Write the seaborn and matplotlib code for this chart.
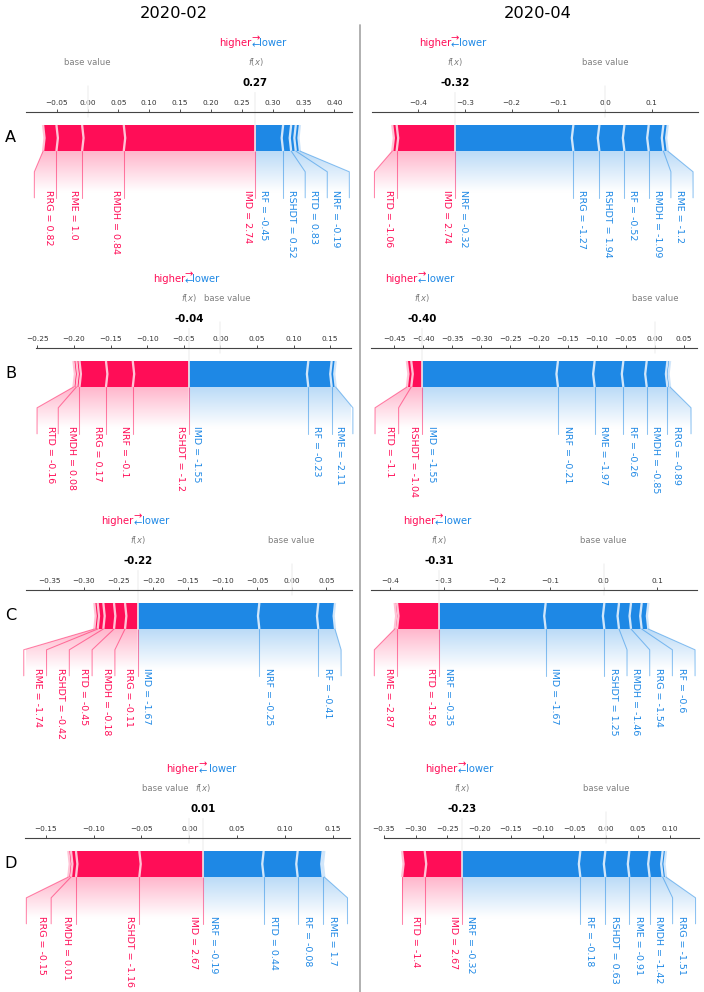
import numpy as np
import matplotlib
matplotlib.use("Agg")
import matplotlib.pyplot as plt
import seaborn as sns
from matplotlib.lines import Line2D
from matplotlib.path import Path
from matplotlib.patches import PathPatch, Polygon
from matplotlib.colors import LinearSegmentedColormap
from matplotlib.font_manager import FontProperties

# ---------------- data ----------------
FEATURES = ["IMD", "NRF", "RF", "RME", "RMDH", "RRG", "RSHDT", "RTD"]
MONTHS = ["2020-02", "2020-04"]
ROWS = ["A", "B", "C", "D"]
BASE_VALUE = 0.0

# SHAP contributions, order as FEATURES
shap_A_feb = [0.2134, -0.0067, -0.0448, 0.0416, 0.0675, 0.0216, -0.0130, -0.0075]
shap_A_apr = [0.1250, -0.2536, -0.0521, -0.0093, -0.0314, -0.0557, -0.0536, 0.0093]
shap_B_feb = [-0.1634, 0.0366, -0.0319, -0.0055, 0.0042, 0.0362, 0.0765, 0.0040]
shap_B_apr = [-0.2347, -0.0634, -0.0404, -0.0496, -0.0358, -0.0046, 0.0190, 0.0075]
shap_C_feb = [-0.1757, -0.0852, -0.0241, 0.0048, 0.0159, 0.0183, 0.0082, 0.0154]
shap_C_apr = [-0.1100, -0.1993, -0.0125, 0.0044, -0.0225, -0.0200, -0.0275, 0.0794]
shap_D_feb = [0.0668, -0.0630, -0.0261, -0.0017, 0.0052, 0.0028, 0.0661, -0.0355]
shap_D_apr = [0.0588, -0.1864, -0.0394, -0.0320, -0.0205, -0.0053, -0.0378, 0.0357]

# feature values shown in the labels, order as FEATURES
vals_A_feb = [2.74, -0.19, -0.45, 1.0, 0.84, 0.82, 0.52, 0.83]
vals_A_apr = [2.74, -0.32, -0.52, -1.2, -1.09, -1.27, 1.94, -1.06]
vals_B_feb = [-1.55, -0.1, -0.23, -2.11, 0.08, 0.17, -1.2, -0.16]
vals_B_apr = [-1.55, -0.21, -0.26, -1.97, -0.85, -0.89, -1.04, -1.1]
vals_C_feb = [-1.67, -0.25, -0.41, -1.74, -0.18, -0.11, -0.42, -0.45]
vals_C_apr = [-1.67, -0.35, -0.6, -2.87, -1.46, -1.54, 1.25, -1.59]
vals_D_feb = [2.67, -0.19, -0.08, 1.7, 0.01, -0.15, -1.16, 0.44]
vals_D_apr = [2.67, -0.32, -0.18, -0.91, -1.42, -1.51, 0.63, -1.4]

# x-axis ranges of each panel
xlim_A = [(-0.0997, 0.428), (-0.4985, 0.1985)]
xlim_B = [(-0.252, 0.178), (-0.490, 0.073)]
xlim_C = [(-0.3837, 0.0867), (-0.4356, 0.175)]
xlim_D = [(-0.1715, 0.1677), (-0.3505, 0.146)]

PANELS = {
    "A": ([shap_A_feb, shap_A_apr], [vals_A_feb, vals_A_apr], xlim_A),
    "B": ([shap_B_feb, shap_B_apr], [vals_B_feb, vals_B_apr], xlim_B),
    "C": ([shap_C_feb, shap_C_apr], [vals_C_feb, vals_C_apr], xlim_C),
    "D": ([shap_D_feb, shap_D_apr], [vals_D_feb, vals_D_apr], xlim_D),
}

# ---------------- layout (pixels) ----------------
W, H, DPI = 704, 992, 100
ROW_TOP = [112, 348, 590, 838]
AX_H = 169
COL_X = {  # left/right px of each axis
    ("A", 0): (26.0, 351.7), ("A", 1): (372.3, 697.7),
    ("B", 0): (36.0, 350.7), ("B", 1): (371.3, 697.0),
    ("C", 0): (26.0, 351.7), ("C", 1): (371.3, 697.0),
    ("D", 0): (25.0, 350.0), ("D", 1): (383.6, 698.7),
}

RED, RED_L = "#FF0D57", "#FFC3D5"
BLUE, BLUE_L = "#1E88E5", "#D1E6FA"
S = 0.55
LABEL_FS = 6.8
SMALL_FS = 6.1
TICK_FS = 5.3
BOLD_FS = 7.4
HL_FS = 7.2
PAD_PT = 4 * S
LABEL_PAD_PT = 3.8

sns.set_theme(style="white")
plt.rcParams["font.family"] = ["DejaVu Sans"]
plt.rcParams["mathtext.fontset"] = "dejavusans"

fig = plt.figure(figsize=(W / DPI, H / DPI), dpi=DPI)
renderer = fig.canvas.get_renderer()


def draw_bars(ax, out, xs, kind, wsep, wbar=0.1):
    pre = out
    for i, x in enumerate(xs):
        if kind == "pos":
            lb, rb = x, pre
            indent = abs(wsep)
            c = RED
        else:
            lb, rb = pre, x
            indent = -abs(wsep)
            c = BLUE
        pre = x
        if i == 0:
            if kind == "pos":
                pts = [[lb, 0], [rb, 0], [rb, wbar], [lb, wbar], [lb + indent, wbar / 2]]
            else:
                pts = [[rb, 0], [lb, 0], [lb, wbar], [rb, wbar], [rb + indent, wbar / 2]]
        else:
            pts = [[lb, 0], [rb, 0], [rb + indent * 0.9, wbar / 2], [rb, wbar],
                   [lb, wbar], [lb + indent * 0.9, wbar / 2]]
        ax.add_patch(Polygon(pts, closed=True, fill=True, facecolor=c, linewidth=0))
    for x in xs:
        if kind == "pos":
            indent, cl = abs(wsep), RED_L
        else:
            indent, cl = -abs(wsep), BLUE_L
        ax.add_patch(Polygon([[x, 0], [x + indent, wbar / 2], [x, wbar]],
                             closed=False, fill=False, edgecolor=cl, lw=3 * S))


def draw_labels(ax, out, feats, xs, kind, offset):
    lw = 1 * S + 0.2
    if kind == "pos":
        c, ha, sign, rgb = RED, "right", 1, (1.0, 13 / 255, 87 / 255)
        ax.add_line(Line2D([out, out], [0, -0.18], lw=lw, alpha=0.5, color=c, clip_on=False))
    else:
        c, ha, sign, rgb = BLUE, "left", -1, (30 / 255, 136 / 255, 229 / 255)
    start, pre, box_end = out, out, out
    inv = ax.transData.inverted()
    padpx = LABEL_PAD_PT * DPI / 72
    for (s, v, n), val in zip(feats, xs):
        t = ax.text(start - sign * offset, -0.15, f"{n} = {v}", fontsize=LABEL_FS, color=c,
                    ha=ha, va="top", rotation=-90)
        bb = t.get_window_extent(renderer=renderer)
        if kind == "pos":
            be_ = inv.transform((bb.x0 - padpx, bb.y0))[0]
        else:
            be_ = inv.transform((bb.x1 + padpx, bb.y0))[0]
        if sign * be_ > sign * val:
            ax.add_line(Line2D([val, val], [0, -0.18], lw=lw, alpha=0.5, color=c, clip_on=False))
            start = val
            box_end = val
        else:
            box_end = be_ - sign * offset
            ax.add_line(Line2D([val, box_end, box_end], [0, -0.08, -0.18], lw=lw,
                               alpha=0.5, color=c, clip_on=False))
            start = box_end
        pre = val
    path = Path([[out, 0], [pre, 0], [box_end, -0.08], [box_end, -0.2], [out, -0.2], [out, 0]])
    patch = PathPatch(path, facecolor="none", edgecolor="none")
    ax.add_patch(patch)
    cm = LinearSegmentedColormap.from_list("cm", [rgb, (1, 1, 1)])
    _, Z2 = np.meshgrid(np.linspace(0, 10), np.linspace(-10, 10))
    im = ax.imshow(Z2, interpolation="quadric", cmap=cm, vmax=0.01, alpha=0.3,
                   origin="lower", extent=[out, box_end, 0, -0.31], aspect="auto",
                   clip_on=True)
    im.set_clip_path(patch)


def force_plot(ax, shap, vals, xlim):
    shap = np.asarray(shap, float)
    out = BASE_VALUE + shap.sum()
    items = list(zip(shap, [str(v) for v in vals], FEATURES))
    neg = sorted([it for it in items if it[0] < 0], key=lambda t: t[0])
    pos = sorted([it for it in items if it[0] > 0], key=lambda t: -t[0])
    neg_x = out + np.cumsum([abs(t[0]) for t in neg])
    pos_x = out - np.cumsum([abs(t[0]) for t in pos])
    total_neg = neg_x.max() - neg_x.min()
    total_pos = pos_x.max() - pos_x.min()
    offset = (total_neg + total_pos) * 0.04
    padding = max(total_pos, total_neg) * 0.2
    min_x = min(pos_x.min(), BASE_VALUE) - padding
    max_x = max(neg_x.max(), BASE_VALUE) + padding
    wsep = (max_x - min_x) / 200

    ax.set_xlim(*xlim)
    ax.set_ylim(-0.5, 0.15)
    ax.set_facecolor("none")
    sns.despine(ax=ax, top=False, left=True, bottom=True, right=True)
    ax.spines["top"].set_color("#444444")
    ax.spines["top"].set_linewidth(0.8)
    ax.tick_params(top=True, bottom=False, left=False, right=False, labelleft=False,
                   labeltop=True, labelbottom=False, labelsize=TICK_FS, length=2, width=0.6,
                   pad=2.0, colors="#333333")
    ax.locator_params(axis="x", nbins=12)
    ax.set_yticks([])

    draw_bars(ax, out, neg_x, "neg", wsep)
    draw_bars(ax, out, pos_x, "pos", wsep)
    draw_labels(ax, out, neg, neg_x, "neg", offset)
    draw_labels(ax, out, pos, pos_x, "pos", offset)

    # higher / lower legend
    ax.text(out - offset, 0.405, "higher", fontsize=HL_FS, color=RED, ha="right")
    ax.text(out + offset, 0.405, "lower", fontsize=HL_FS, color=BLUE, ha="left")
    ax.text(out, 0.4, r"$\leftarrow$", fontsize=HL_FS, color=BLUE, ha="center")
    ax.text(out, 0.425, r"$\rightarrow$", fontsize=HL_FS, color=RED, ha="center")

    # base value
    ax.add_line(Line2D([BASE_VALUE, BASE_VALUE], [0.13, 0.25], lw=2 * S, color="#F2F2F2",
                       clip_on=False))
    # output value
    ax.add_line(Line2D([out, out], [0, 0.24], lw=2 * S, color="#F2F2F2", clip_on=False))
    bprops = dict(facecolor="white", edgecolor="white", pad=PAD_PT)
    font = FontProperties(weight="bold")
    tv = ax.text(out, 0.25, "{0:.2f}".format(out), fontproperties=font, fontsize=BOLD_FS,
                 ha="center", color="black")
    tv.set_bbox(bprops)
    tf = ax.text(out, 0.33, r"$f(x)$", fontsize=SMALL_FS, alpha=0.5, ha="center", color="black")
    tf.set_bbox(bprops)
    tb = ax.text(BASE_VALUE, 0.33, "base value", fontsize=SMALL_FS, alpha=0.5, ha="center",
                 color="black")
    tb.set_bbox(bprops)
    # keep the two grey captions apart
    inv = ax.transData.inverted()
    padpx = PAD_PT * DPI / 72
    bf = tf.get_window_extent(renderer=renderer)
    bbx = tb.get_window_extent(renderer=renderer)
    gap = 2 * padpx + 1
    if bbx.x0 < bf.x1 + gap and bbx.x1 > bf.x0 - gap:
        if BASE_VALUE >= out:
            shift = (bf.x1 + gap) - bbx.x0
        else:
            shift = (bf.x0 - gap) - bbx.x1
        cx = (bbx.x0 + bbx.x1) / 2 + shift
        tb.set_x(inv.transform((cx, bbx.y0))[0])

    ax.set_xlim(*xlim)
    ax.set_ylim(-0.5, 0.15)
    return out


for r, row in enumerate(ROWS):
    shaps, valss, xlims = PANELS[row]
    for c in range(2):
        l, rr = COL_X[(row, c)]
        top = ROW_TOP[r]
        ax = fig.add_axes([l / W, (H - top - AX_H) / H, (rr - l) / W, AX_H / H])
        force_plot(ax, shaps[c], valss[c], xlims[c])
    fig.text(10.5 / W, 1 - (ROW_TOP[r] + 26) / H, row, fontsize=11.6, ha="center", va="center",
             color="black")

for c, m in enumerate(MONTHS):
    fig.text([174, 538][c] / W, 1 - 13.5 / H, m, fontsize=11.7, ha="center", va="center",
             color="black")

fig.add_artist(Line2D([360 / W, 360 / W], [1 - 25 / H, 0], color="#AAAAAA", lw=1.3,
                      transform=fig.transFigure))

fig.savefig("out.png", dpi=DPI)
